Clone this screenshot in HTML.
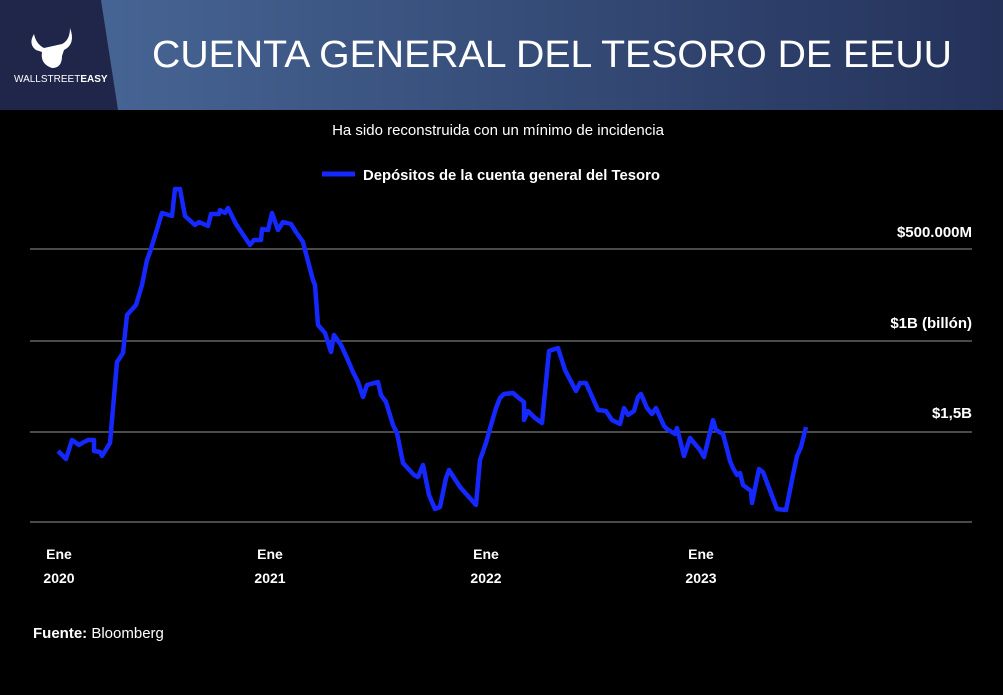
<!DOCTYPE html>
<html><head><meta charset="utf-8"><style>
body{margin:0;width:1003px;height:690px;background:#000;overflow:hidden;font-family:"Liberation Sans",sans-serif}
</style></head><body>
<svg width="1003" height="690" xmlns="http://www.w3.org/2000/svg">
<defs><linearGradient id="g" x1="0" x2="1"><stop offset="0" stop-color="#4a6a9a"/><stop offset="1" stop-color="#24325a"/></linearGradient></defs>
<rect x="0" y="0" width="1003" height="110" fill="url(#g)"/>
<polygon points="0,0 101,0 118,110 0,110" fill="#1f2649"/>
<path d="M34,34 Q28,44 36,50 L42,52 Q40,64 52,68 Q62,68 62,56 L64,50 Q76,44 70,28 Q70,40 62,44 L44,48 Q36,44 34,34Z" fill="#fff"/>
<text x="14" y="82" fill="#fff" font-size="10">WALLSTREET<tspan font-weight="bold">EASY</tspan></text>
<text x="152" y="67" fill="#fff" font-size="38" textLength="800" lengthAdjust="spacingAndGlyphs">CUENTA GENERAL DEL TESORO DE EEUU</text>
<text x="498" y="135" fill="#fff" font-size="15" text-anchor="middle">Ha sido reconstruida con un mínimo de incidencia</text>
<line x1="322" y1="174" x2="355" y2="174" stroke="#1428ff" stroke-width="5"/>
<text x="363" y="180" fill="#fff" font-size="15" font-weight="bold" textLength="297" lengthAdjust="spacingAndGlyphs">Depósitos de la cuenta general del Tesoro</text>
<g stroke="#777" stroke-width="1.3">
<line x1="30" y1="249" x2="972" y2="249"/><line x1="30" y1="341" x2="972" y2="341"/><line x1="30" y1="432" x2="972" y2="432"/><line x1="30" y1="522" x2="972" y2="522"/></g>
<g fill="#fff" font-size="15" font-weight="bold" text-anchor="end">
<text x="972" y="237">$500.000M</text><text x="972" y="328">$1B (billón)</text><text x="972" y="418">$1,5B</text></g>
<g fill="#fff" font-size="14" font-weight="bold" text-anchor="middle">
<text x="59" y="559">Ene</text><text x="59" y="583">2020</text>
<text x="270" y="559">Ene</text><text x="270" y="583">2021</text>
<text x="486" y="559">Ene</text><text x="486" y="583">2022</text>
<text x="701" y="559">Ene</text><text x="701" y="583">2023</text></g>
<text x="33" y="638" fill="#fff" font-size="15"><tspan font-weight="bold">Fuente:</tspan> Bloomberg</text>
<polyline fill="none" stroke="#1428ff" stroke-width="4.5" stroke-linejoin="round" points="58,451 66,459 72,440 79,445 84,442 88,440 94,440 94,451 100,452 102,456 110,443 112,420 117,362 123,353 127,315 136,305 142,285 147,260 150,252 161,216 162,213 172,216 175,189 180,189 185,216 195,225 199,222 208,226 211,214 219,214 220,210 225,213 228,208 236,224 240,230 250,245 254,240 261,240 262,229 268,230 272,213 278,230 283,222 291,224 296,232 303,242 305,250 313,280 315,285 318,325 325,333 331,352 334,335 341,345 347,358 353,372 358,382 363,397 367,385 378,382 381,395 386,402 393,425 397,433 403,463 414,475 418,477 423,465 429,495 435,509 440,507 446,478 449,470 460,487 476,505 480,460 486,443 489,432 496,408 500,398 504,394 513,393 520,399 524,402 524,420 528,411 535,418 542,423 549,351 558,348 565,370 576,391 580,383 586,383 598,410 606,411 612,420 620,424 624,408 628,415 634,411 638,397 641,394 647,408 652,414 656,408 664,426 667,429 675,434 677,428 684,456 690,438 700,450 704,457 713,420 716,430 723,434 727,449 730,461 733,468 737,475 740,473 743,485 751,491 752,503 759,469 763,472 777,509 786,510 793,475 797,456 801,447 806,427"/>
</svg>
</body></html>
